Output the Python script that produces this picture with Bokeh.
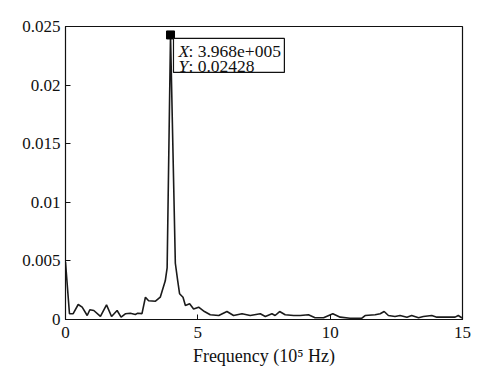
from bokeh.plotting import figure
from bokeh.models import Range1d, FixedTicker
from bokeh.core.properties import value
from bokeh.embed import file_html
from bokeh.resources import INLINE

freq = [0, 0.15, 0.29, 0.48, 0.63, 0.82, 0.92, 1.07, 1.32, 1.55, 1.74, 1.95, 2.1, 2.26,
        2.45, 2.64, 2.73, 2.89, 3.02, 3.14, 3.4, 3.58, 3.77, 3.84, 3.968, 4.15, 4.24,
        4.31, 4.44, 4.53, 4.69, 4.84, 5.03, 5.25, 5.47, 5.79, 6.1, 6.35, 6.67, 6.98,
        7.36, 7.55, 7.8, 7.92, 8.09, 8.3, 8.62, 8.87, 9.18, 9.43, 9.75, 10.1, 10.38,
        10.75, 11.2, 11.32, 11.7, 11.89, 12.04, 12.2, 12.45, 12.64, 12.9, 13.08, 13.34,
        13.52, 13.84, 14.03, 14.4, 14.72, 14.84, 14.97, 15.0]
amp = [0.0049, 0.00049, 0.0005, 0.00128, 0.00105, 0.00034, 0.00083, 0.00077, 0.00026,
       0.00125, 0.00026, 0.00077, 0.0002, 0.00049, 0.00054, 0.00043, 0.00054, 0.0005,
       0.0019, 0.0016, 0.00156, 0.0019, 0.0033, 0.0044, 0.02428, 0.0048, 0.0033, 0.0022,
       0.0019, 0.0012, 0.00134, 0.0009, 0.00105, 0.00068, 0.0004, 0.00034, 0.00068,
       0.00034, 0.00049, 0.00034, 0.00049, 0.00026, 0.00049, 0.00034, 0.00068, 0.0004,
       0.00034, 0.00034, 0.0004, 0.00015, 0.00015, 0.00049, 0.0002, 0.00011, 0.00011,
       0.00034, 0.0004, 0.00049, 0.00068, 0.00034, 0.00026, 0.00034, 0.0002, 0.00034,
       0.00015, 0.00026, 0.00034, 0.0002, 0.0002, 0.0002, 0.00034, 0.00015, 0.00015]

peak_x = 3.968
peak_y = 0.02428
x_ticks = [0, 5, 10, 15]
y_ticks = [0, 0.005, 0.01, 0.015, 0.02, 0.025]
y_tick_labels = ["0", "0.005", "0.01", "0.015", "0.02", "0.025"]
x_label = "Frequency (10\u2075 Hz)"

FONT = "Liberation Serif"

p = figure(width=487, height=374, output_backend="svg", toolbar_location=None,
           x_range=Range1d(0, 15), y_range=Range1d(0, 0.025),
           min_border_left=65, min_border_right=25, min_border_top=26, min_border_bottom=55)
p.background_fill_color = "white"
p.border_fill_color = "white"
p.outline_line_color = "#111111"
p.outline_line_width = 1.2
p.grid.visible = False

for ax in (p.xaxis[0], p.yaxis[0]):
    ax.major_tick_in = 5
    ax.major_tick_out = 0
    ax.minor_tick_line_color = None
    ax.axis_line_color = "#111111"
    ax.major_tick_line_color = "#111111"
    ax.major_label_text_font = FONT
    ax.major_label_text_font_size = "17px"
    ax.major_label_text_color = "#111111"
    ax.axis_label_text_font = FONT
    ax.axis_label_text_font_size = "18px"
    ax.axis_label_text_font_style = "normal"
    ax.axis_label_text_color = "#111111"

p.xaxis.ticker = FixedTicker(ticks=x_ticks)
p.yaxis.ticker = FixedTicker(ticks=y_ticks)
p.yaxis.major_label_overrides = {t: l for t, l in zip(y_ticks, y_tick_labels)}
p.xaxis.major_label_standoff = 7
p.yaxis.major_label_standoff = 5
p.xaxis.axis_label = x_label
p.xaxis.axis_label_standoff = 5

p.line(freq, amp, line_color="#1a1a1a", line_width=1.6)
p.scatter([peak_x], [peak_y], marker="square", size=8, color="black")

p.quad(left=[4.08], right=[8.27], top=[0.02398], bottom=[0.02108],
       fill_color="white", fill_alpha=1.0, line_color="#111111", line_width=1.2)

p.text(x=[4.27, 4.27], y=[0.02287, 0.02159], text=["X", "Y"],
       text_font=value(FONT), text_font_size="17.5px", text_font_style="italic",
       text_baseline="middle", text_align="left", text_color="#111111")
p.text(x=[4.645, 4.645], y=[0.02287, 0.02159],
       text=[": %.3fe+005" % peak_x, ": %.5f" % peak_y],
       text_font=value(FONT), text_font_size="17.5px",
       text_baseline="middle", text_align="left", text_color="#111111")

open("out.html", "w").write(file_html(p, INLINE))
